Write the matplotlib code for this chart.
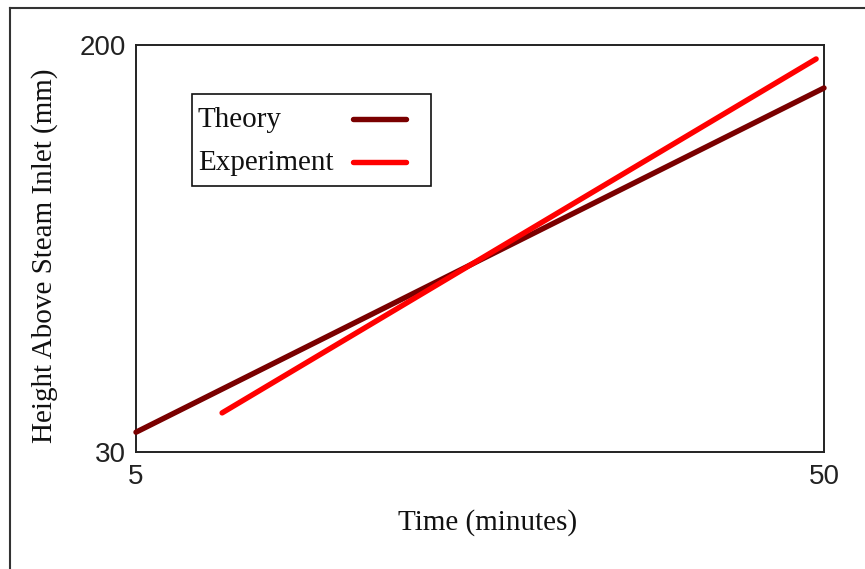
import matplotlib
matplotlib.use("Agg")
import matplotlib.pyplot as plt
from matplotlib.lines import Line2D
from matplotlib.patches import Rectangle
from matplotlib.ticker import NullLocator

# Height of the condensation front vs. time (log-log)
series_names = ["Theory", "Experiment"]
theory_time = [5.0, 50.0]
theory_height = [32.9, 163.7]
experiment_time = [6.67, 48.7]
experiment_height = [36.0, 187.4]

x_ticks = [5, 50]
y_ticks = [30, 200]
x_label = "Time (minutes)"
y_label = "Height Above Steam Inlet (mm)"

colors = {"Theory": "#7a0000", "Experiment": "#ff0000"}
serif = ["Liberation Serif", "DejaVu Serif"]
sans = ["Liberation Sans", "DejaVu Sans"]

fig = plt.figure(figsize=(8.65, 5.69), dpi=100)
ax = fig.add_axes([136 / 865, 117 / 569, 688 / 865, 407 / 569])

lw = 3.9
ax.plot(theory_time, theory_height, color=colors["Theory"], lw=lw,
        solid_capstyle="round", clip_on=False, zorder=3)
ax.plot(experiment_time, experiment_height, color=colors["Experiment"], lw=lw,
        solid_capstyle="round", clip_on=False, zorder=3)

ax.set_xscale("log")
ax.set_yscale("log")
ax.set_xlim(x_ticks[0], x_ticks[-1])
ax.set_ylim(y_ticks[0], y_ticks[-1])
ax.set_xticks(x_ticks)
ax.set_xticklabels([str(v) for v in x_ticks])
ax.set_yticks(y_ticks)
ax.set_yticklabels([str(v) for v in y_ticks])
ax.xaxis.set_minor_locator(NullLocator())
ax.yaxis.set_minor_locator(NullLocator())
ax.tick_params(axis="both", length=0, labelsize=20, colors="#222222")
ax.tick_params(axis="x", pad=9)
ax.tick_params(axis="y", pad=7)
for lab in ax.get_xticklabels() + ax.get_yticklabels():
    lab.set_family(sans)

for sp in ax.spines.values():
    sp.set_linewidth(1.4)
    sp.set_color("#222222")

fig.text(488 / 865, 1 - 523 / 569, x_label, family=serif, fontsize=21,
         ha="center", va="center", color="#111111")
fig.text(45 / 865, 1 - 256 / 569, y_label, family=serif, fontsize=21,
         ha="center", va="center", rotation=90, color="#111111")

# Legend box with text on the left and line samples on the right
ax.add_patch(Rectangle((0.0814, 0.6536), 0.4288 - 0.0814, 0.8796 - 0.6536,
                       transform=ax.transAxes, fill=False, ec="#111111",
                       lw=1.2, zorder=4))
legend_rows = [0.8157, 0.710]
for name, y in zip(series_names, legend_rows):
    ax.text(0.0901, y, name, transform=ax.transAxes, family=serif,
            fontsize=21, ha="left", va="center", color="#111111", zorder=5)
    ax.add_line(Line2D([0.3155, 0.3924], [y + 0.003, y + 0.003],
                       transform=ax.transAxes, color=colors[name], lw=lw,
                       solid_capstyle="round", zorder=5))

# Outer panel border
fig.add_artist(Line2D([10 / 865, 10 / 865], [0, 1 - 8 / 569],
                      transform=fig.transFigure, color="#333333", lw=1.5))
fig.add_artist(Line2D([10 / 865, 1], [1 - 8 / 569, 1 - 8 / 569],
                      transform=fig.transFigure, color="#333333", lw=1.5))

fig.savefig("out.png", dpi=100)
